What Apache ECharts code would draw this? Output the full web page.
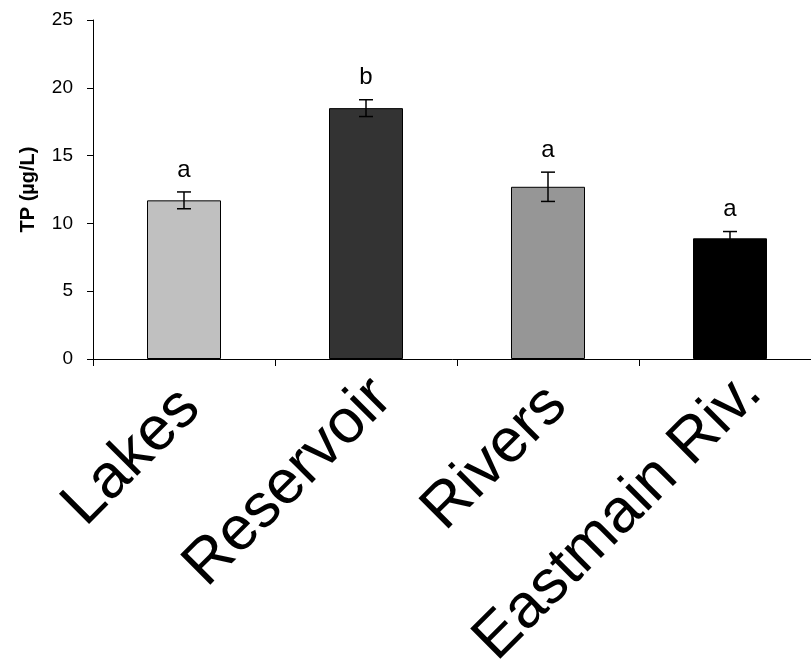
<!DOCTYPE html>
<html><head><meta charset="utf-8">
<script src="https://cdn.jsdelivr.net/npm/echarts@6/dist/echarts.min.js"></script>
<style>html,body{margin:0;padding:0;background:#fff}#c{width:811px;height:667px}</style>
</head><body><div id="c"></div>
<script>
var categories = ["Lakes", "Reservoir", "Rivers", "Eastmain Riv."];
var means = [11.7, 18.5, 12.7, 8.9];
var errors = [0.62, 0.62, 1.08, 0.5];
var letters = ["a", "b", "a", "a"];
var barColors = ["#c0c0c0", "#333333", "#969696", "#000000"];
var yTicks = [0, 5, 10, 15, 20, 25];

var chart = echarts.init(document.getElementById('c'));
var errData = means.map(function (m, i) { return [i, m - errors[i], m + errors[i], letters[i]]; });
var labelStyles = ['c0', 'c1', 'c2', 'c3'];
chart.setOption({
  animation: false,
  grid: { left: 93, top: 20, height: 339, width: 728, containLabel: false, outerBoundsMode: 'none' },
  xAxis: {
    type: 'category', data: categories,
    axisLine: { lineStyle: { color: '#000', width: 1 } },
    axisTick: { show: true, alignWithLabel: false, length: 7, lineStyle: { color: '#000' } },
    axisLabel: {
      rotate: 45, fontFamily: 'Liberation Sans, Arial', fontSize: 62, color: '#000', margin: 2, interval: 0, verticalAlign: 'top',
      formatter: function (v, i) { return '{' + labelStyles[i] + '|' + v + '}'; },
      rich: {
        c0: { fontFamily: 'Liberation Sans, Arial', fontSize: 62, color: '#000', padding: [0, 22, 0, 0] },
        c1: { fontFamily: 'Liberation Sans, Arial', fontSize: 62, color: '#000', padding: [0, 8, 0, 0] },
        c2: { fontFamily: 'Liberation Sans, Arial', fontSize: 62, color: '#000', padding: [0, 18, 0, 0] },
        c3: { fontFamily: 'Liberation Sans, Arial', fontSize: 62, color: '#000' }
      }
    }
  },
  yAxis: {
    type: 'value', min: yTicks[0], max: yTicks[yTicks.length - 1], interval: 5,
    name: 'TP (µg/L)', nameLocation: 'middle', nameGap: 55, nameRotate: 90,
    nameTextStyle: { fontFamily: 'Liberation Sans, Arial', fontWeight: 'bold', fontSize: 20, color: '#000' },
    axisLine: { show: true, lineStyle: { color: '#000', width: 1 } },
    axisTick: { show: true, length: 6, lineStyle: { color: '#000' } },
    axisLabel: { fontFamily: 'Liberation Sans, Arial', fontSize: 19, color: '#000', margin: 20 },
    splitLine: { show: false }
  },
  series: [
    {
      type: 'bar', barWidth: 74,
      data: means.map(function (v, i) {
        return { value: v, itemStyle: { color: barColors[i], borderColor: '#000', borderWidth: 1 } };
      })
    },
    {
      type: 'custom', data: errData, z: 10,
      renderItem: function (params, api) {
        var x = api.value(0);
        var lo = api.coord([x, api.value(1)]);
        var hi = api.coord([x, api.value(2)]);
        var cx = hi[0], w = 7;
        return {
          type: 'group',
          children: [
            { type: 'line', shape: { x1: cx, y1: lo[1], x2: cx, y2: hi[1] }, style: { stroke: '#000', lineWidth: 1.5 } },
            { type: 'line', shape: { x1: cx - w, y1: lo[1], x2: cx + w, y2: lo[1] }, style: { stroke: '#000', lineWidth: 1.5 } },
            { type: 'line', shape: { x1: cx - w, y1: hi[1], x2: cx + w, y2: hi[1] }, style: { stroke: '#000', lineWidth: 1.5 } },
            { type: 'text', style: { text: api.value(3), x: cx, y: hi[1] - 10, textAlign: 'center', textVerticalAlign: 'bottom', fontFamily: 'Liberation Sans, Arial', fontSize: 24, fill: '#000' } }
          ]
        };
      }
    }
  ]
});
</script></body></html>
